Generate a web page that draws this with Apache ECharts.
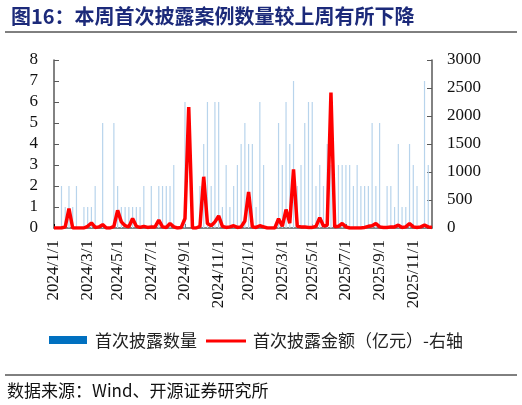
<!DOCTYPE html>
<html>
<head>
<meta charset="utf-8">
<script src="https://cdn.jsdelivr.net/npm/echarts@6/dist/echarts.min.js"></script>
<style>
  html, body { margin: 0; padding: 0; background: #fff; }
  #main { width: 522px; height: 405px; }
</style>
</head>
<body>
<div id="main"></div>
<script>
var titleText = '图16：本周首次披露案例数量较上周有所下降';
var sourceText = '数据来源：Wind、开源证券研究所';
var seriesNames = ['首次披露数量', '首次披露金额（亿元）-右轴'];

// weekly points, starting from 2024/1/1
var startDate = new Date(2024, 0, 1);
var weekCount = 102;
var weeks = [];
for (var i = 0; i < weekCount; i++) {
  var d = new Date(startDate.getTime() + i * 7 * 86400000);
  weeks.push(d.getFullYear() + '/' + (d.getMonth() + 1) + '/' + d.getDate());
}

var tickLabels = ['2024/1/1', '2024/3/1', '2024/5/1', '2024/7/1', '2024/9/1', '2024/11/1',
  '2025/1/1', '2025/3/1', '2025/5/1', '2025/7/1', '2025/9/1', '2025/11/1'];
var tickIndex = [0, 9, 17, 26, 35, 44, 52, 61, 69, 78, 87, 96];

var counts = [0,0,2,1,2,1,2,0,1,1, 1,2,0,5,0,0,5,2,1,1, 1,1,1,1,2,0,2,0,2,2,
  2,2,3,0,0,6,0,0,0,2, 4,6,2,6,6,1,3,1,2,3, 4,5,4,4,1,6,3,0,0,0,
  5,3,6,4,7,2,3,5,6,6, 2,3,2,4,3,0,3,3,3,3, 2,3,2,2,2,5,2,5,0,2,
  2,1,4,1,1,4,3,2,0,7, 3,0];

var amounts = [0,0,0,20,345,0,0,0,0,30, 90,10,20,60,0,0,30,315,110,40, 20,170,30,10,30,10,20,20,140,20,
  10,80,20,0,10,170,2160,0,0,30, 915,80,40,110,215,30,10,20,40,10, 20,125,645,20,10,40,20,0,0,0,
  165,30,330,85,1045,30,20,20,10,10, 30,185,35,50,2420,20,30,80,20,0, 0,0,0,10,30,40,80,20,10,10,
  20,20,50,10,20,80,20,10,20,50, 20,10];

var serif = 'Liberation Serif';
var cjk = 'Noto Sans CJK SC';
var axisColor = '#595959';

function showTick(index) {
  return tickIndex.indexOf(index) >= 0;
}

var option = {
  animation: false,
  backgroundColor: '#fff',
  title: {
    text: titleText,
    left: 6,
    top: 1,
    textStyle: { fontFamily: cjk, fontSize: 20, fontWeight: 'bold', color: '#1c2a7a' }
  },
  grid: { left: 54, right: 90, top: 60, bottom: 177 },
  xAxis: {
    type: 'category',
    data: weeks,
    boundaryGap: false,
    axisLine: { lineStyle: { color: axisColor, width: 1.5 } },
    axisTick: { inside: true, length: 4, interval: showTick, lineStyle: { color: '#000' } },
    axisLabel: {
      interval: showTick,
      rotate: 90,
      margin: 12,
      fontFamily: serif,
      fontSize: 17,
      color: '#111',
      formatter: function (val, idx) {
        return tickLabels[tickIndex.indexOf(idx)];
      }
    },
    splitLine: { show: false }
  },
  yAxis: [{
    type: 'value',
    min: 0,
    max: 8,
    interval: 1,
    axisLine: { show: true, lineStyle: { color: axisColor, width: 1.5 } },
    axisTick: { show: true, inside: true, length: 5, lineStyle: { color: axisColor } },
    axisLabel: { fontFamily: serif, fontSize: 17, color: '#111', margin: 16 },
    splitLine: { show: false }
  }, {
    type: 'value',
    min: 0,
    max: 3000,
    interval: 500,
    axisLine: { show: true, lineStyle: { color: axisColor, width: 1.5 } },
    axisTick: { show: true, inside: true, length: 5, lineStyle: { color: axisColor } },
    axisLabel: {
      fontFamily: serif, fontSize: 17, color: '#111', margin: 15,
      formatter: function (v) { return String(v); }
    },
    splitLine: { show: false }
  }],
  series: [{
    name: seriesNames[0],
    type: 'bar',
    data: counts,
    barWidth: 1.2,
    itemStyle: { color: '#b8d4ec' }
  }, {
    name: seriesNames[1],
    type: 'line',
    yAxisIndex: 1,
    data: amounts,
    symbol: 'none',
    color: '#ff0000',
    lineStyle: { color: '#ff0000', width: 3.5 }
  }],
  graphic: [{
    type: 'line',
    shape: { x1: 5, y1: 32, x2: 517, y2: 32 },
    style: { stroke: '#000', lineWidth: 1 }
  }, {
    // legend
    type: 'rect',
    shape: { x: 49, y: 336, width: 38, height: 8 },
    style: { fill: '#0070C0' }
  }, {
    type: 'text',
    x: 95,
    y: 341,
    style: { text: seriesNames[0], fontFamily: cjk, fontSize: 17, fill: '#222', verticalAlign: 'middle' }
  }, {
    type: 'line',
    shape: { x1: 206, y1: 341, x2: 246, y2: 341 },
    style: { stroke: '#ff0000', lineWidth: 3 }
  }, {
    type: 'text',
    x: 253,
    y: 341,
    style: { text: seriesNames[1], fontFamily: cjk, fontSize: 17, fill: '#222', verticalAlign: 'middle' }
  }, {
    type: 'line',
    shape: { x1: 5, y1: 375, x2: 517, y2: 375 },
    style: { stroke: '#000', lineWidth: 1 }
  }, {
    type: 'text',
    x: 7,
    y: 391,
    style: { text: sourceText, fontFamily: cjk, fontSize: 17, fill: '#111', verticalAlign: 'middle' }
  }]
};

let chart = echarts.init(document.getElementById('main'), null, { renderer: 'canvas' });
chart.setOption(option);
</script>
</body>
</html>
